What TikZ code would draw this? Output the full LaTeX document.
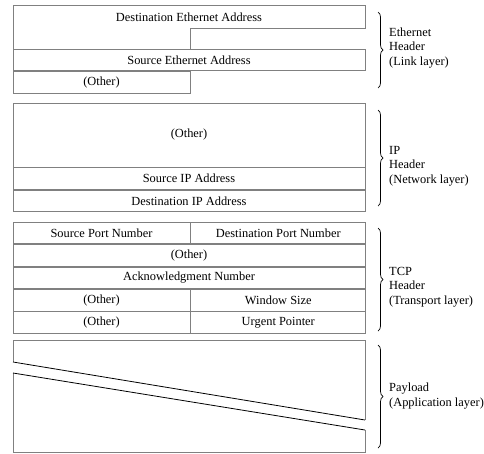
\documentclass[tikz,border=0pt]{standalone}
\usepackage{fontspec}
\setmainfont{Liberation Serif}
\usetikzlibrary{decorations.pathreplacing, positioning}
\tikzstyle{field} = [rectangle, draw=black!50, line width=0.8pt, inner sep=0pt, minimum height=21.6pt, font=\fontsize{12.4}{14.5}\selectfont]
\tikzstyle{frame} = [draw=black!50, line width=0.8pt]
\tikzstyle{fieldtext} = [inner sep=0pt, font=\fontsize{12.4}{14.5}\selectfont]
\tikzstyle{layer} = [anchor=west, align=left, inner sep=0pt, font=\fontsize{12.4}{14.5}\selectfont]
\tikzstyle{brace} = [draw, line width=0.7pt, decorate, decoration={brace, amplitude=5pt}]

\begin{document}
\begin{tikzpicture}[x=1pt, y=-1pt, node distance=0pt]
        \useasboundingbox (0,0) rectangle (484,453);

        % Ethernet
        \draw [frame] (13,5) -- (365,5) -- (365,28) -- (190,28) -- (190,49) -- (13,49) -- cycle;
        \node [fieldtext] (dsteth) at (189,17) {Destination Ethernet Address};
        \node [field, minimum width=352pt] (srceth) at (189,60) {Source Ethernet Address};
        \node [field, minimum width=177pt, below right=of srceth.south west] (etho) {(Other)};

        % IP
        \node [field, minimum width=352pt, minimum height=64pt] (ipo) at (189,135) {(Other)};
        \node [field, minimum width=352pt, below right=of ipo.south west] (srcip) {Source IP Address};
        \node [field, minimum width=352pt, below right=of srcip.south west] (dstip) {Destination IP Address};

        % TCP
        \node [field, minimum width=177pt] (srcport) at (101.5,233) {Source Port Number};
        \node [field, minimum width=175pt, right=of srcport] (dstport) {Destination Port Number};
        \node [field, minimum width=352pt, below right=of srcport.south west] (tcpo) {(Other)};
        \node [field, minimum width=352pt, below right=of tcpo.south west] (ack) {Acknowledgment Number};
        \node [field, minimum width=177pt, below right=of ack.south west] (tcpo2) {(Other)};
        \node [field, minimum width=175pt, right=of tcpo2] (win) {Window Size};
        \node [field, minimum width=177pt, below right=of tcpo2.south west] (tcpo3) {(Other)};
        \node [field, minimum width=175pt, right=of tcpo3] (urg) {Urgent Pointer};

        % Payload
        \draw [frame] (13,362) -- (13,340) -- (365,340) -- (365,420);
        \draw [frame] (13,373) -- (13,452) -- (365,452) -- (365,430);
        \draw [line width=0.8pt] (13,362) -- (365,420);
        \draw [line width=0.8pt] (13,373) -- (365,430);

        % Klammern
        \path [brace] (378,12) -- (378,88);
        \path [brace] (378,110) -- (378,206);
        \path [brace] (378,228) -- (378,331);
        \path [brace] (378,345) -- (378,448);

        % Schichten
        \node [layer] (ethlbl) at (389,48) {Ethernet\\Header\\(Link layer)};
        \node [layer] (iplbl) at (389,166) {IP\\Header\\(Network layer)};
        \node [layer] (tcplbl) at (389,287) {TCP\\Header\\(Transport layer)};
        \node [layer] (paylbl) at (389,396) {Payload\\(Application layer)};
    \end{tikzpicture}
\end{document}
